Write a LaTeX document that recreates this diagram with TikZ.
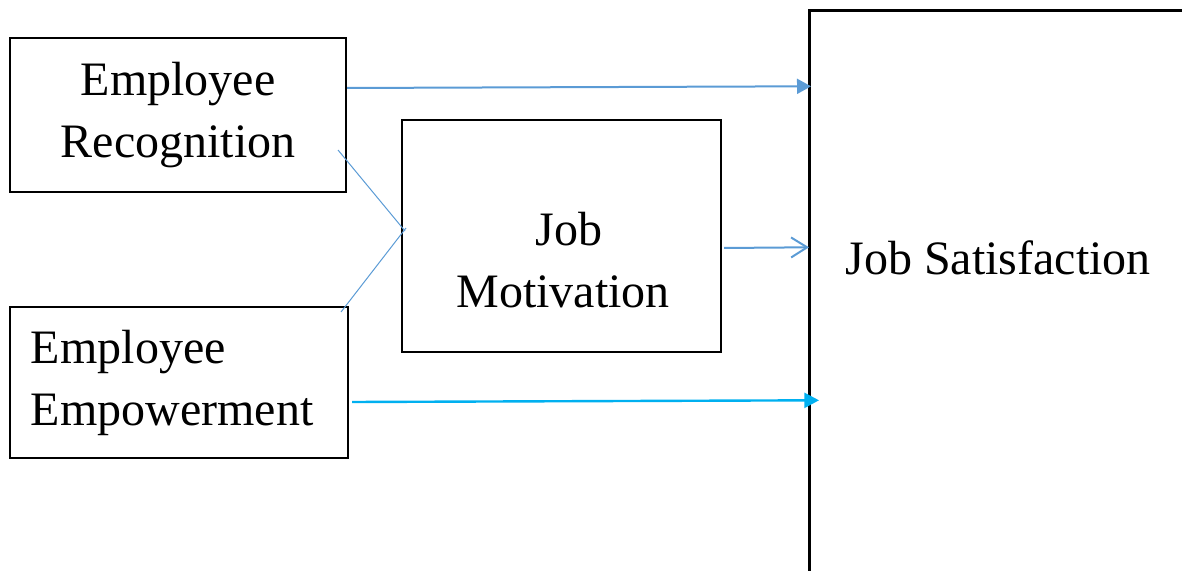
\documentclass[tikz,border=0pt]{standalone}
\usepackage{fontspec}
\setmainfont{Liberation Serif}
\usetikzlibrary{arrows.meta}
\definecolor{linkblue}{HTML}{5B9BD5}
\definecolor{skyblue}{HTML}{00B0F0}

\begin{document}
\begin{tikzpicture}[x=0.5pt,y=-0.5pt,
    box/.style={draw,line width=1pt,inner sep=0pt},
    word/.style={font=\fontsize{24}{31}\selectfont},
    link/.style={linkblue,line width=1pt}]
  \clip (0,0) rectangle (1182,571);
  \node[box,word,align=center,minimum width=168pt,minimum height=77pt] (rec) at (178,115) {Employee\\Recognition};
  \node[box,word,align=left,text width=148pt,inner xsep=10.5pt,minimum width=169pt,minimum height=75.5pt] (emp) at (179,382.5) {Employee\\Empowerment};
  \node[box,minimum width=159.5pt,minimum height=116pt] (mot) at (561.5,236) {};
  \node[word,align=center] (mottext) at (563,260) {\hspace*{6pt}Job\\Motivation};
  \node[box,line width=1.3pt,anchor=north west,minimum width=200pt,minimum height=290pt] (sat) at (808,9) {};
  \node[word,anchor=base] (sattext) at (998,275) {Job Satisfaction};
  \draw[link,-{Triangle[length=7pt,width=7.5pt]}] ([yshift=13.5pt]rec.east) -- ([xshift=1.5pt,yshift=107pt]sat.west);
  \draw[link,line width=0.5pt] ([xshift=-4.5pt,yshift=-17.5pt]rec.east) -- ([xshift=2pt,yshift=2.5pt]mot.west);
  \draw[link,line width=0.5pt] ([xshift=-4pt,yshift=-3pt]emp.north east) -- ([xshift=2.5pt,yshift=4pt]mot.west);
  \draw[link,-{Straight Barb[length=8pt,width=10pt]}] ([xshift=1pt,yshift=-6pt]mot.east) -- ([xshift=0.5pt,yshift=26.5pt]sat.west);
  \draw[skyblue,line width=1.2pt,-{Triangle[length=7.3pt,width=7.5pt]}] ([xshift=1.5pt,yshift=-9.75pt]emp.east) -- ([xshift=5.5pt,yshift=-50pt]sat.west);
\end{tikzpicture}
\end{document}
